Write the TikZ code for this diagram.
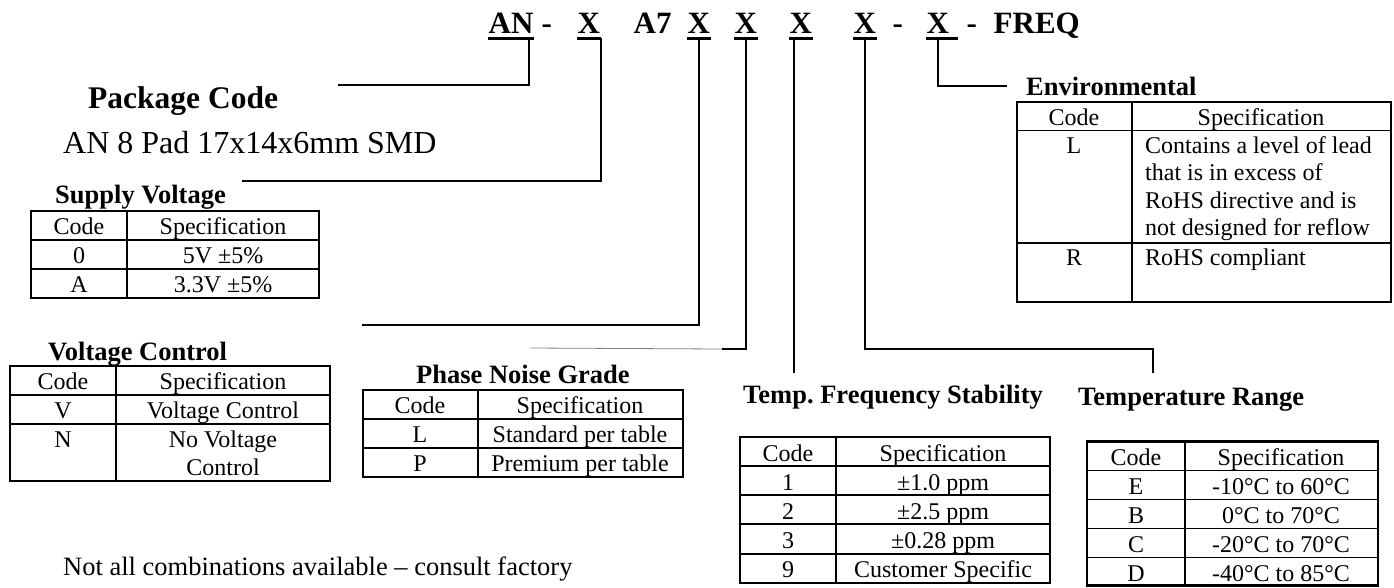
\documentclass[tikz,border=0pt]{standalone}
\usepackage{fontspec}
\setmainfont{Liberation Serif}

\begin{document}
\begin{tikzpicture}[x=1pt, y=-1pt,
    partno/.style={font=\bfseries\fontsize{31}{36}\selectfont,
      anchor=base west, inner ysep=0pt, inner xsep=0.5pt},
    partul/.style={partno, text depth=5pt},
    uline/.style={line width=3.2pt},
    lead/.style={line width=1.6pt},
    title/.style={font=\bfseries\fontsize{26.5}{30}\selectfont,
      anchor=base west, inner sep=0pt},
    cell/.style={font=\fontsize{24}{27.5}\selectfont, anchor=base, inner sep=0pt},
    grid/.style={line width=1.8pt},
    frame/.style={line width=2.4pt}
  ]
  \useasboundingbox (0,0) rectangle (1394,587);

  % part number
  \node[partul] (pnPkg) at (488,33) {AN};
  \node[partno] (pnDa) at (541,33) {-};
  \node[partul] (pnSup) at (577,33) {X};
  \node[partno] (pnA7) at (633,33) {A7};
  \node[partul] (pnCtl) at (687,33) {X};
  \node[partul] (pnPhn) at (734,33) {X};
  \node[partul] (pnStb) at (789,33) {X};
  \node[partul] (pnRng) at (853,33) {X};
  \node[partno] (pnDb) at (892,33) {-};
  \node[partul] (pnEnv) at (926,33) {X};
  \node[partno] (pnDc) at (966,33) {-};
  \node[partno] (pnFreq) at (993,33) {FREQ};
  \foreach \n in {pnPkg,pnSup,pnCtl,pnPhn,pnStb,pnRng}
    \draw[uline] (\n.south west) -- (\n.south east);
  \draw[uline] (pnEnv.south west) -- ([xshift=8pt]pnEnv.south east);

  % titles
  \node[font=\bfseries\fontsize{31.5}{36}\selectfont, anchor=base west, inner sep=0pt]
    (pkgTitle) at (88,108) {Package Code};
  \node[font=\fontsize{32}{36}\selectfont, anchor=base west, inner sep=0pt]
    (pkgDesc) at (63,153) {AN 8 Pad 17x14x6mm SMD};
  \node[title] (supTitle) at (55,203) {Supply Voltage};
  \node[title] (ctlTitle) at (48,360) {Voltage Control};
  \node[title] (phnTitle) at (416,383) {Phase Noise Grade};
  \node[title] (stbTitle) at (743,403) {Temp.\ Frequency Stability};
  \node[title] (rngTitle) at (1078,405) {Temperature Range};
  \node[title] (envTitle) at (1026,95) {Environmental};
  \node[font=\fontsize{26.5}{30}\selectfont, anchor=base west, inner sep=0pt]
    (note) at (63,575) {Not all combinations available – consult factory};

  % leader lines
  \coordinate (pkgEnd) at (338,85);
  \coordinate (supEnd) at (242,181);
  \coordinate (ctlEnd) at (362,325);
  \coordinate (phnBend) at (722,349);
  \coordinate (phnEnd) at (530,348);
  \coordinate (stbEnd) at (794,373);
  \coordinate (rngBend) at (1153,349);
  \coordinate (rngEnd) at (1153,373);
  \coordinate (envEnd) at (1007,86);
  \draw[lead] ([xshift=-5pt]pnPkg.south east) |- (pkgEnd);
  \draw[lead] (pnSup.south east) |- (supEnd);
  \draw[lead] (pnCtl.south) |- (ctlEnd);
  \draw[lead] (pnPhn.south) |- (phnBend);
  \draw[line width=0.8pt, gray] (phnBend) -- (phnEnd);
  \draw[lead] (stbEnd |- pnStb.south) -- (stbEnd);
  \draw[lead] (pnRng.south) |- (rngBend) -- (rngEnd);
  \draw[lead] (pnEnv.south) |- (envEnd);

  % supply voltage table
  \draw[frame] (31,211) rectangle (319,298);
  \draw[grid] (127,211) -- (127,298);
  \foreach \y in {240,269} \draw[grid] (31,\y) -- (319,\y);
  \foreach \c/\s [count=\i from 0] in {Code/Specification, 0/5V ±5\%, A/3.3V ±5\%}{
    \node[cell] (supC\i) at (79,{234.5+29*\i}) {\c};
    \node[cell] (supS\i) at (223,{234.5+29*\i}) {\s};
  }

  % voltage control table
  \draw[frame] (10,366) rectangle (330,481);
  \draw[grid] (116,366) -- (116,481);
  \foreach \y in {395,424} \draw[grid] (10,\y) -- (330,\y);
  \node[cell] (ctlC0) at (63,389) {Code};
  \node[cell] (ctlS0) at (223,389) {Specification};
  \node[cell] (ctlC1) at (63,418) {V};
  \node[cell] (ctlS1) at (223,418) {Voltage Control};
  \node[cell] (ctlC2) at (63,447) {N};
  % base of a two-line node is its last line
  \node[cell, align=center, font=\fontsize{24}{28}\selectfont]
    (ctlS2) at (223,475) {No Voltage\\Control};

  % phase noise table
  \draw[frame] (363,390) rectangle (683,477);
  \draw[grid] (478,390) -- (478,477);
  \foreach \y in {419,448} \draw[grid] (363,\y) -- (683,\y);
  \foreach \c/\s [count=\i from 0] in {Code/Specification, L/Standard per table, P/Premium per table}{
    \node[cell] (phnC\i) at (420,{413+29*\i}) {\c};
    \node[cell] (phnS\i) at (580,{413+29*\i}) {\s};
  }

  % stability table
  \draw[frame] (740,437) rectangle (1050,583);
  \draw[grid] (836,437) -- (836,583);
  \foreach \y in {466,495,524,554} \draw[grid] (740,\y) -- (1050,\y);
  \foreach \c/\s [count=\i from 0] in {Code/Specification, 1/±1.0 ppm, 2/±2.5 ppm,
      3/±0.28 ppm, 9/Customer Specific}{
    \node[cell] (stbC\i) at (788,{461+29.2*\i}) {\c};
    \node[cell] (stbS\i) at (943,{461+29.2*\i}) {\s};
  }

  % temperature range table
  \draw[frame] (1087,441.5) rectangle (1378,585.5);
  \draw[grid] (1185,441.5) -- (1185,585.5);
  \foreach \y in {470.5,499.5,528.5,557.5} \draw[grid] (1087,\y) -- (1378,\y);
  \foreach \c/\s [count=\i from 0] in {Code/Specification, E/-10°C to 60°C, B/0°C to 70°C,
      C/-20°C to 70°C, D/-40°C to 85°C}{
    \node[cell] (rngC\i) at (1136,{465.5+29*\i}) {\c};
    \node[cell] (rngS\i) at (1281,{465.5+29*\i}) {\s};
  }

  % environmental table
  \draw[frame] (1017,102) rectangle (1391,302);
  \draw[grid] (1132,102) -- (1132,302);
  \foreach \y in {130.5,243} \draw[grid] (1017,\y) -- (1391,\y);
  \node[cell] (envC0) at (1074,125.5) {Code};
  \node[cell] (envS0) at (1261,125.5) {Specification};
  \node[cell] (envC1) at (1074,153.5) {L};
  \node[cell, anchor=base west, align=left, font=\fontsize{24}{27.3}\selectfont]
    (envS1) at (1145,235.4) {Contains a level of lead\\that is in excess of\\RoHS directive and is\\not designed for reflow};
  \node[cell] (envC2) at (1074,265.5) {R};
  \node[cell, anchor=base west] (envS2) at (1145,265.5) {RoHS compliant};
\end{tikzpicture}
\end{document}
